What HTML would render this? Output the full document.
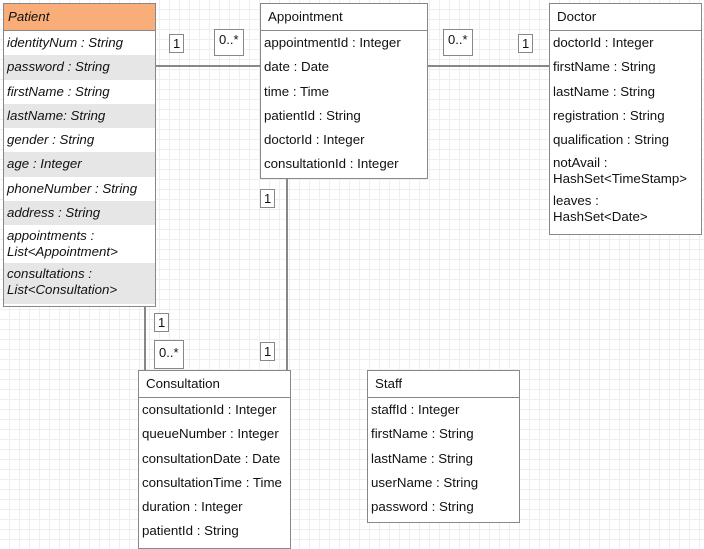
<!DOCTYPE html>
<html><head><style>
body{margin:0;width:704px;height:549px;overflow:hidden;position:relative;font-family:"Liberation Sans",sans-serif;font-size:13.3px;color:#111;
background-color:#fff;background-image:linear-gradient(#efefef 1px,transparent 1px),linear-gradient(90deg,#efefef 1px,transparent 1px);background-size:10px 10px;background-position:-1px -1px}
.b{position:absolute;border:1px solid #888;background:#fff;box-sizing:border-box}
.h{height:27px;line-height:25px;padding-left:7px;border-bottom:1px solid #888;box-sizing:border-box}
.r{height:24.3px;line-height:24px;padding-left:3px;white-space:nowrap}
.r2{height:38px;line-height:16px;padding:3px 0 0 3px;box-sizing:border-box}
.g{background:#e6e6e6}
.i{font-style:italic}
.l{position:absolute;background:#888}
.t{position:absolute;border:1px solid #888;background:#fff;font-size:13px;padding:1px 3px;line-height:15px}
</style></head><body>
<div class="l" style="left:155px;top:65px;width:106px;height:2px"></div>
<div class="l" style="left:427px;top:65px;width:123px;height:2px"></div>
<div class="l" style="left:144px;top:305px;width:2px;height:66px"></div>
<div class="l" style="left:286px;top:177px;width:2px;height:194px"></div>

<div class="b i" style="left:3px;top:3px;width:153px;height:304px">
<div class="h" style="background:#f9ad78;padding-left:4px">Patient</div>
<div class="r">identityNum : String</div>
<div class="r g">password : String</div>
<div class="r">firstName : String</div>
<div class="r g">lastName: String</div>
<div class="r">gender : String</div>
<div class="r g">age : Integer</div>
<div class="r">phoneNumber : String</div>
<div class="r g">address : String</div>
<div class="r2">appointments :<br>List&lt;Appointment&gt;</div>
<div class="r2 g" style="height:41px">consultations :<br>List&lt;Consultation&gt;</div>
</div>

<div class="b" style="left:260px;top:3px;width:168px;height:176px">
<div class="h">Appointment</div>
<div class="r">appointmentId : Integer</div>
<div class="r">date : Date</div>
<div class="r">time : Time</div>
<div class="r">patientId : String</div>
<div class="r">doctorId : Integer</div>
<div class="r">consultationId : Integer</div>
</div>

<div class="b" style="left:549px;top:3px;width:153px;height:232px">
<div class="h">Doctor</div>
<div class="r">doctorId : Integer</div>
<div class="r">firstName : String</div>
<div class="r">lastName : String</div>
<div class="r">registration : String</div>
<div class="r">qualification : String</div>
<div class="r2">notAvail :<br>HashSet&lt;TimeStamp&gt;</div>
<div class="r2">leaves :<br>HashSet&lt;Date&gt;</div>
</div>

<div class="b" style="left:138px;top:370px;width:153px;height:179px">
<div class="h">Consultation</div>
<div class="r">consultationId : Integer</div>
<div class="r">queueNumber : Integer</div>
<div class="r">consultationDate : Date</div>
<div class="r">consultationTime : Time</div>
<div class="r">duration : Integer</div>
<div class="r">patientId : String</div>
</div>

<div class="b" style="left:367px;top:370px;width:153px;height:153px">
<div class="h">Staff</div>
<div class="r">staffId : Integer</div>
<div class="r">firstName : String</div>
<div class="r">lastName : String</div>
<div class="r">userName : String</div>
<div class="r">password : String</div>
</div>

<div class="t" style="left:169px;top:34px">1</div>
<div class="t" style="left:214px;top:29px;padding:2px 4px 8px">0..*</div>
<div class="t" style="left:443px;top:29px;padding:2px 4px 8px">0..*</div>
<div class="t" style="left:518px;top:34px">1</div>
<div class="t" style="left:260px;top:189px">1</div>
<div class="t" style="left:154px;top:313px">1</div>
<div class="t" style="left:154px;top:340px;padding:4px 4px 8px">0..*</div>
<div class="t" style="left:260px;top:342px">1</div>
</body></html>
